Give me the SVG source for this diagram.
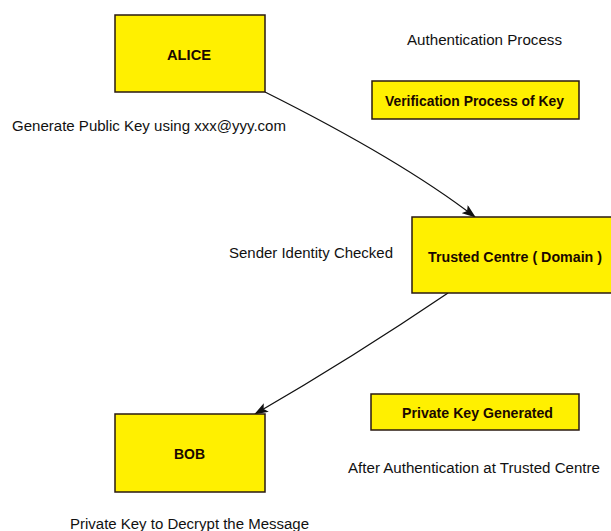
<svg xmlns="http://www.w3.org/2000/svg" width="611" height="531" viewBox="0 0 611 531">
  <defs>
    <style>
      .box { fill: #fff000; stroke: #2a1a10; stroke-width: 1.5; }
      .lbl { font-family: "Liberation Sans", Arial, Helvetica, sans-serif; font-size: 14px; font-weight: bold; fill: #1a0800; text-anchor: middle; }
      .note { font-family: "Liberation Sans", Arial, Helvetica, sans-serif; font-size: 14px; fill: #111; }
      .edge { fill: none; stroke: #111; stroke-width: 1.3; }
    </style>
    <marker id="arrow" viewBox="0 0 14 10" refX="13" refY="5" markerWidth="14" markerHeight="10" markerUnits="userSpaceOnUse" orient="auto">
      <path d="M0,0 L14,5 L0,10 L3,5 z" fill="#111"/>
    </marker>
  </defs>

  <rect width="611" height="531" fill="#ffffff"/>

  <g id="connectors">
    <path class="edge" d="M265,92 Q401,160 475,217" marker-end="url(#arrow)"/>
    <path class="edge" d="M448,293 Q352,358 255,414" marker-end="url(#arrow)"/>
  </g>

  <g id="alice">
    <rect class="box" x="115" y="15" width="150" height="77"/>
    <text class="lbl" x="189" y="60" textLength="44" lengthAdjust="spacingAndGlyphs">ALICE</text>
  </g>

  <g id="verification">
    <rect class="box" x="372" y="81" width="207" height="38"/>
    <text class="lbl" x="474.5" y="106" textLength="179" lengthAdjust="spacingAndGlyphs">Verification Process of Key</text>
  </g>

  <g id="trusted-centre">
    <rect class="box" x="412" y="217" width="202" height="76"/>
    <text class="lbl" x="515" y="262" textLength="174" lengthAdjust="spacingAndGlyphs">Trusted Centre ( Domain )</text>
  </g>

  <g id="private-key">
    <rect class="box" x="371" y="394" width="208" height="36"/>
    <text class="lbl" x="477.5" y="418" textLength="151" lengthAdjust="spacingAndGlyphs">Private Key Generated</text>
  </g>

  <g id="bob">
    <rect class="box" x="115" y="414" width="150" height="78"/>
    <text class="lbl" x="189.5" y="459" textLength="31" lengthAdjust="spacingAndGlyphs">BOB</text>
  </g>

  <g id="notes">
    <text class="note" x="407" y="45" textLength="155" lengthAdjust="spacingAndGlyphs">Authentication Process</text>
    <text class="note" x="12" y="131" textLength="274" lengthAdjust="spacingAndGlyphs">Generate Public Key using xxx@yyy.com</text>
    <text class="note" x="229" y="258" textLength="164" lengthAdjust="spacingAndGlyphs">Sender Identity Checked</text>
    <text class="note" x="348" y="473" textLength="252" lengthAdjust="spacingAndGlyphs">After Authentication at Trusted Centre</text>
    <text class="note" x="70" y="529" textLength="239" lengthAdjust="spacingAndGlyphs">Private Key to Decrypt the Message</text>
  </g>
</svg>
